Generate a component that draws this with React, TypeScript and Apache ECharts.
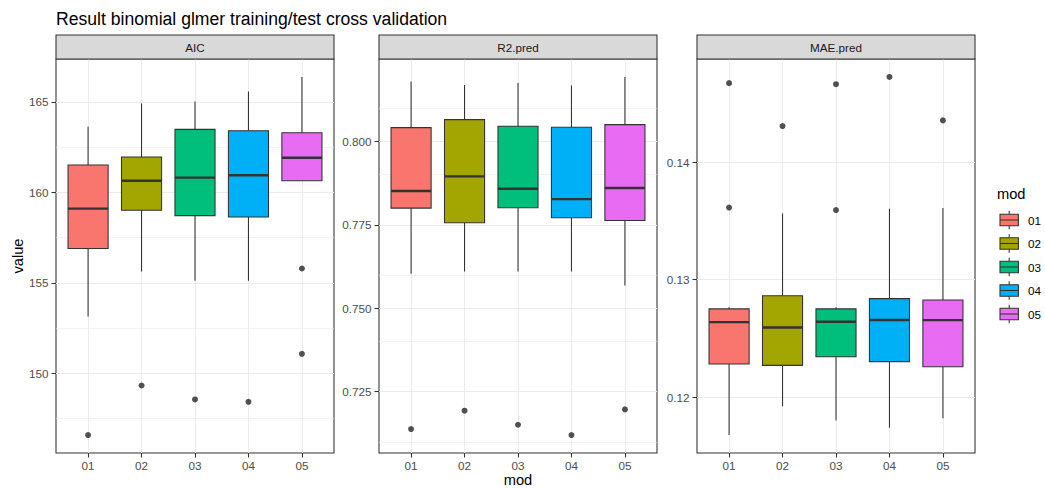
import React, { useEffect, useRef } from "react";
import * as echarts from "echarts";

const categories = ["01", "02", "03", "04", "05"];
const colors = ["#F8766D", "#A3A500", "#00BF7D", "#00B0F6", "#E76BF3"];
const panelTitles = ["AIC", "R2.pred", "MAE.pred"];

// [lower whisker, Q1, median, Q3, upper whisker] per category
const aicBoxes = [
  [153.14, 156.89, 159.1, 161.51, 163.62],
  [155.62, 159.01, 160.64, 161.95, 164.91],
  [155.11, 158.71, 160.81, 163.48, 165.02],
  [155.11, 158.64, 160.94, 163.4, 165.57],
  [160.64, 160.64, 161.91, 163.29, 166.38],
];
const aicOutliers = [
  [1, 146.58],
  [2, 149.32],
  [3, 148.55],
  [4, 148.42],
  [5, 155.79],
  [5, 151.07],
];

const r2Boxes = [
  [0.7603, 0.78, 0.7851, 0.8041, 0.8179],
  [0.761, 0.7756, 0.7895, 0.8065, 0.8169],
  [0.761, 0.7801, 0.7858, 0.8045, 0.8175],
  [0.761, 0.7771, 0.7827, 0.8042, 0.8167],
  [0.7568, 0.7763, 0.786, 0.805, 0.8193],
];
const r2Outliers = [
  [1, 0.7138],
  [2, 0.7193],
  [3, 0.7151],
  [4, 0.712],
  [5, 0.7197],
];

const maeBoxes = [
  [0.11678, 0.12283, 0.12639, 0.12752, 0.12766],
  [0.11924, 0.12271, 0.12593, 0.12864, 0.13563],
  [0.11803, 0.12345, 0.12642, 0.12752, 0.12766],
  [0.11741, 0.12303, 0.12658, 0.12839, 0.13605],
  [0.11822, 0.1226, 0.12656, 0.12828, 0.1361],
];
const maeOutliers = [
  [1, 0.14673],
  [1, 0.13614],
  [2, 0.14308],
  [3, 0.14664],
  [3, 0.13593],
  [4, 0.14726],
  [5, 0.14356],
];

const aicTicks = [150, 155, 160, 165];
const r2Ticks = [0.725, 0.75, 0.775, 0.8];
const maeTicks = [0.12, 0.13, 0.14];
const aicMinor = [147.5, 152.5, 157.5, 162.5];
const r2Minor = [0.7125, 0.7375, 0.7625, 0.7875, 0.8125];
const maeMinor = [0.125, 0.135, 0.145];
const tickDecimals = [0, 3, 2];

const FONT = "'Liberation Sans', Arial, sans-serif";
const PANEL_LEFT = [56, 379, 697];
const PANEL_TOP = 59;
const PANEL_W = 278;
const PANEL_H = 394;
const STRIP_H = 24;
const DARK = "#333333";
const GRID = "#EBEBEB";

function App() {
  const ref = useRef<HTMLDivElement>(null);

  useEffect(() => {
    if (!ref.current) return;
    const chart = echarts.init(ref.current, null, { renderer: "svg" });

    const panels = [
      { boxes: aicBoxes, outliers: aicOutliers, ticks: aicTicks, minor: aicMinor },
      { boxes: r2Boxes, outliers: r2Outliers, ticks: r2Ticks, minor: r2Minor },
      { boxes: maeBoxes, outliers: maeOutliers, ticks: maeTicks, minor: maeMinor },
    ];

    const grids: any[] = [];
    const xAxes: any[] = [];
    const yAxes: any[] = [];
    const series: any[] = [];
    const graphics: any[] = [];

    panels.forEach((p, i) => {
      const all: number[] = [];
      p.boxes.forEach((b) => all.push(...b));
      p.outliers.forEach((o) => all.push(o[1]));
      const lo = Math.min(...all);
      const hi = Math.max(...all);
      const pad = (hi - lo) * 0.05;
      const yMin = lo - pad;
      const yMax = hi + pad;

      grids.push({
        left: PANEL_LEFT[i],
        top: PANEL_TOP,
        width: PANEL_W,
        height: PANEL_H,
        show: true,
        borderColor: DARK,
        borderWidth: 1.07,
        backgroundColor: "transparent",
      });

      const xVals = categories.map((_, k) => k + 1);
      xAxes.push({
        type: "value",
        gridIndex: i,
        min: 0.4,
        max: 5.6,
        axisLine: { show: false },
        axisTick: {
          show: true,
          length: 4.5,
          customValues: xVals,
          lineStyle: { color: DARK, width: 1.07 },
        },
        axisLabel: {
          customValues: xVals,
          formatter: (v: number) => categories[Math.round(v) - 1] ?? "",
          color: "#4D4D4D",
          fontSize: 11.7,
          fontFamily: FONT,
          margin: 6,
        },
        splitLine: { show: true, lineStyle: { color: GRID, width: 1.07 } },
      });

      yAxes.push({
        type: "value",
        gridIndex: i,
        min: yMin,
        max: yMax,
        axisLine: { show: false },
        axisTick: {
          show: true,
          length: 4.5,
          customValues: p.ticks,
          lineStyle: { color: DARK, width: 1.07 },
        },
        axisLabel: {
          customValues: p.ticks,
          formatter: (v: number) => v.toFixed(tickDecimals[i]),
          color: "#4D4D4D",
          fontSize: 11.7,
          fontFamily: FONT,
          margin: 7.5,
        },
        splitLine: { show: true, lineStyle: { color: GRID, width: 1.07 } },
      });

      // minor grid lines
      series.push({
        type: "line",
        xAxisIndex: i,
        yAxisIndex: i,
        data: [],
        silent: true,
        z: 1,
        markLine: {
          silent: true,
          symbol: "none",
          z: 1,
          label: { show: false },
          lineStyle: { color: GRID, width: 0.6, type: "solid" },
          emphasis: { disabled: true },
          data: p.minor.map((v) => ({ yAxis: v })),
        },
      });

      series.push({
        type: "custom",
        xAxisIndex: i,
        yAxisIndex: i,
        z: 3,
        silent: true,
        encode: { x: 0, y: [1, 2, 3, 4, 5] },
        data: p.boxes.map((b, k) => [k + 1, ...b]),
        renderItem: (params: any, api: any) => {
          const x = api.value(0);
          const pLo = api.coord([x, api.value(1)]);
          const pQ1 = api.coord([x, api.value(2)]);
          const pMed = api.coord([x, api.value(3)]);
          const pQ3 = api.coord([x, api.value(4)]);
          const pHi = api.coord([x, api.value(5)]);
          const w = api.size([0.75, 0])[0];
          const cx = pMed[0];
          const left = cx - w / 2;
          const color = colors[params.dataIndex];
          const ls = { stroke: DARK, lineWidth: 1.07 };
          return {
            type: "group",
            children: [
              { type: "line", shape: { x1: cx, y1: pHi[1], x2: cx, y2: pQ3[1] }, style: ls },
              { type: "line", shape: { x1: cx, y1: pQ1[1], x2: cx, y2: pLo[1] }, style: ls },
              {
                type: "rect",
                shape: { x: left, y: pQ3[1], width: w, height: pQ1[1] - pQ3[1] },
                style: { fill: color, stroke: DARK, lineWidth: 1.07 },
              },
              {
                type: "line",
                shape: { x1: left, y1: pMed[1], x2: left + w, y2: pMed[1] },
                style: { stroke: DARK, lineWidth: 2.4 },
              },
            ],
          };
        },
      });

      series.push({
        type: "scatter",
        xAxisIndex: i,
        yAxisIndex: i,
        z: 4,
        silent: true,
        symbol: "circle",
        symbolSize: 6,
        itemStyle: { color: "#262626" },
        data: p.outliers,
      });

      // strip
      graphics.push({
        type: "rect",
        shape: { x: PANEL_LEFT[i], y: PANEL_TOP - STRIP_H, width: PANEL_W, height: STRIP_H },
        style: { fill: "#D9D9D9", stroke: DARK, lineWidth: 1.07 },
        z: 10,
      });
      graphics.push({
        type: "text",
        x: PANEL_LEFT[i] + PANEL_W / 2,
        y: PANEL_TOP - STRIP_H / 2,
        style: {
          text: panelTitles[i],
          fill: "#1A1A1A",
          font: `11.7px ${FONT}`,
          align: "center",
          verticalAlign: "middle",
        },
        z: 11,
      });
    });

    // title
    graphics.push({
      type: "text",
      x: 56,
      y: 19,
      style: {
        text: "Result binomial glmer training/test cross validation",
        fill: "#000000",
        font: `17.6px ${FONT}`,
        align: "left",
        verticalAlign: "middle",
      },
    });
    // axis titles
    graphics.push({
      type: "text",
      x: 18,
      y: PANEL_TOP + PANEL_H / 2,
      rotation: Math.PI / 2,
      style: {
        text: "value",
        fill: "#000000",
        font: `14.67px ${FONT}`,
        align: "center",
        verticalAlign: "middle",
      },
    });
    graphics.push({
      type: "text",
      x: PANEL_LEFT[1] + PANEL_W / 2,
      y: 480,
      style: {
        text: "mod",
        fill: "#000000",
        font: `14.67px ${FONT}`,
        align: "center",
        verticalAlign: "middle",
      },
    });

    // legend
    graphics.push({
      type: "text",
      x: 997,
      y: 194,
      style: {
        text: "mod",
        fill: "#000000",
        font: `14.67px ${FONT}`,
        align: "left",
        verticalAlign: "middle",
      },
    });
    const keyX = 1000;
    const keyW = 18.4;
    const keyStep = 23.5;
    categories.forEach((c, k) => {
      const cy = 220 + k * keyStep;
      const cx = keyX + keyW / 2;
      const ls = { stroke: DARK, lineWidth: 1.07 };
      graphics.push({ type: "line", shape: { x1: cx, y1: cy - 9.2, x2: cx, y2: cy - 5.75 }, style: ls });
      graphics.push({ type: "line", shape: { x1: cx, y1: cy + 5.75, x2: cx, y2: cy + 9.2 }, style: ls });
      graphics.push({
        type: "rect",
        shape: { x: keyX, y: cy - 5.75, width: keyW, height: 11.5 },
        style: { fill: colors[k], stroke: DARK, lineWidth: 1.07 },
      });
      graphics.push({ type: "line", shape: { x1: keyX, y1: cy, x2: keyX + keyW, y2: cy }, style: ls });
      graphics.push({
        type: "text",
        x: 1028,
        y: cy,
        style: {
          text: c,
          fill: "#000000",
          font: `11.7px ${FONT}`,
          align: "left",
          verticalAlign: "middle",
        },
      });
    });

    chart.setOption({
      animation: false,
      backgroundColor: "#ffffff",
      textStyle: { fontFamily: FONT },
      grid: grids,
      xAxis: xAxes,
      yAxis: yAxes,
      series,
      graphic: graphics,
    });

    return () => {
      chart.dispose();
    };
  }, []);

  return (
    <div
      ref={ref}
      style={{ position: "absolute", left: 0, top: 0, width: 1045, height: 488 }}
    />
  );
}

export default App;
